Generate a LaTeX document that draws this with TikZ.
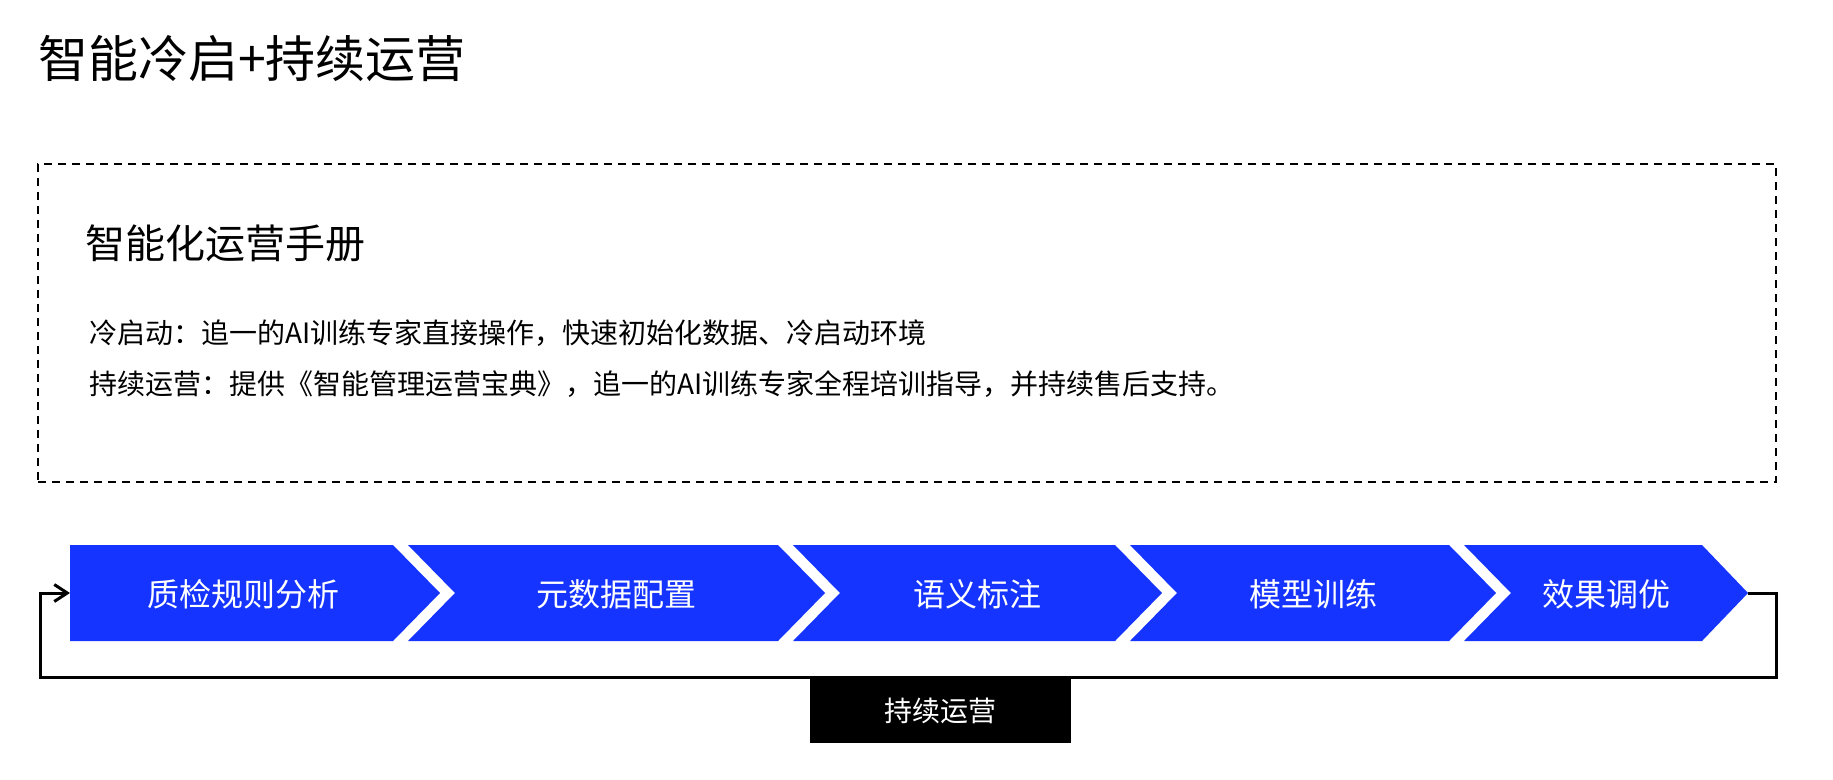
\documentclass[tikz,border=0pt]{standalone}
\usepackage{fontspec}
\setmainfont{Noto Sans CJK SC}
\usetikzlibrary{arrows.meta}
\definecolor{stepblue}{HTML}{1634FF}
\begin{document}
\begin{tikzpicture}[x=1pt,y=-1pt,
  chev/.style={fill=stepblue, draw=none},
  steplabel/.style={text=white, font=\fontsize{32}{38}\selectfont, inner sep=0pt},
  body/.style={anchor=west, inner sep=0pt, font=\fontsize{28}{34}\selectfont},
  fb/.style={line width=3pt, -{Straight Barb[length=13pt,width=17pt,line width=3pt]}}
]
\useasboundingbox[fill=white] (0,0) rectangle (1833,779);
% title
\node[anchor=west, inner sep=0pt, font=\fontsize{50}{60}\selectfont] (title) at (38,58.5) {智能冷启+持续运营};
% dashed panel
\node[draw, line width=2pt, dash pattern=on 8pt off 6pt, minimum width=1738pt, minimum height=318pt, inner sep=0pt] (panel) at (907,323) {};
\node[anchor=west, inner sep=0pt, font=\fontsize{40}{48}\selectfont] (sub) at (85,243) {智能化运营手册};
\node[body] (l1) at (89,333) {冷启动：追一的AI训练专家直接操作，快速初始化数据、冷启动环境};
\node[body] (l2) at (89,384) {持续运营：提供《智能管理运营宝典》，追一的AI训练专家全程培训指导，并持续售后支持。};
% chevrons
\fill[chev] (70,545) -- (393,545) -- (440,593) -- (393,641) -- (70,641) -- cycle;
\fill[chev] (408,545) -- (778,545) -- (825,593) -- (778,641) -- (408,641) -- (455,593) -- cycle;
\fill[chev] (793,545) -- (1115,545) -- (1162,593) -- (1115,641) -- (793,641) -- (840,593) -- cycle;
\fill[chev] (1130,545) -- (1449,545) -- (1496,593) -- (1449,641) -- (1130,641) -- (1177,593) -- cycle;
\fill[chev] (1464,545) -- (1702,545) -- (1748,593) -- (1702,641) -- (1464,641) -- (1511,593) -- cycle;
\node[steplabel] (c1) at (243,594.5) {质检规则分析};
\node[steplabel] (c2) at (616,594.5) {元数据配置};
\node[steplabel] (c3) at (977,594.5) {语义标注};
\node[steplabel] (c4) at (1313,594.5) {模型训练};
\node[steplabel] (c5) at (1606,594.5) {效果调优};
\coordinate (t5) at (1748,593);
\coordinate (s1) at (70,593);
% feedback label
\node[fill=black, text=white, minimum width=261pt, minimum height=65pt, inner sep=0pt, font=\fontsize{28}{34}\selectfont] (ops) at (940.5,710.5) {持续运营};
% feedback loop
\draw[fb] (t5) -- ++(28,0) -- ++(0,84) -| ([xshift=-30pt]s1) -- (s1);
\end{tikzpicture}
\end{document}
